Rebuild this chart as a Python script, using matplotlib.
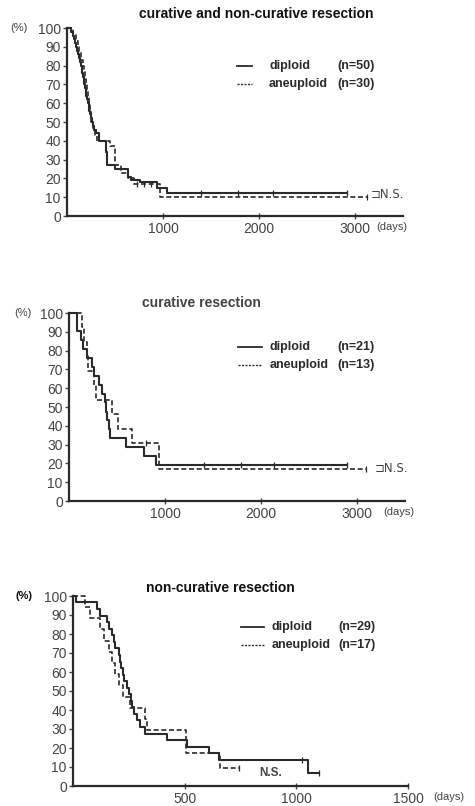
import matplotlib.pyplot as plt

W, H = 475, 806
INK = '#2a2a2a'

# ---- panel 1: curative and non-curative resection ----
p1_dip_t = [0, 40, 60, 75, 88, 95, 105, 115, 125, 135, 145, 152, 160, 168, 175, 182, 190,
            196, 203, 210, 218, 225, 232, 240, 248, 257, 268, 280, 300, 330, 410, 420,
            500, 637, 670, 760, 935, 1040]
p1_dip_s = [100, 98, 96, 94, 92, 90, 88, 86, 84, 82, 80, 78, 76, 74, 72, 70, 68,
            66, 64, 62, 60, 58, 56, 54, 52, 50, 48, 46, 44, 40, 34, 27,
            25, 21, 19, 18, 15, 12]
p1_dip_end = 2915
p1_dip_cens = [1400, 1785, 2150, 2915]

p1_ane_t = [0, 60, 90, 110, 130, 150, 165, 175, 185, 195, 205, 215, 225, 235, 245, 255,
            270, 290, 310, 450, 500, 560, 640, 700, 970]
p1_ane_s = [100, 97, 93, 90, 87, 83, 80, 77, 73, 70, 67, 63, 60, 57, 53, 50,
            47, 43, 40, 37, 27, 23, 20, 17, 10]
p1_ane_end = 3120
p1_ane_cens = [730, 800, 870, 3120]

# ---- panel 2: curative resection ----
p2_dip_t = [0, 87, 122, 150, 191, 240, 260, 313, 347, 370, 390, 400, 412, 424, 590, 781, 903]
p2_dip_s = [100, 90.5, 85.7, 81.0, 76.2, 71.4, 66.7, 61.9, 57.1, 52.4, 47.6, 42.9, 38.1,
            33.3, 28.6, 23.8, 19.0]
p2_dip_end = 2897
p2_dip_cens = [1406, 1789, 2136, 2897]

p2_ane_t = [0, 132, 160, 191, 200, 260, 278, 451, 510, 660, 938]
p2_ane_s = [100, 92.3, 84.6, 76.9, 69.2, 61.5, 53.8, 46.2, 38.5, 30.8, 17.0]
p2_ane_end = 3098
p2_ane_cens = [799, 3098]

# ---- panel 3: non-curative resection ----
p3_dip_t = [0, 15, 107, 122, 152, 160, 175, 182, 190, 205, 210, 215, 222, 230, 240, 250,
            258, 265, 275, 287, 302, 324, 421, 511, 608, 655, 1054]
p3_dip_s = [100, 96.6, 93.1, 89.7, 86.2, 82.8, 79.3, 75.9, 72.4, 69.0, 65.5, 62.1, 58.6,
            55.2, 51.7, 48.3, 44.8, 41.4, 37.9, 34.5, 31.0, 27.6, 24.1, 20.7, 17.2, 13.8, 6.9]
p3_dip_end = 1100
p3_dip_cens = [1026, 1100]

p3_ane_t = [0, 55, 78, 122, 140, 160, 175, 190, 205, 225, 257, 324, 332, 505, 660]
p3_ane_s = [100, 94.1, 88.2, 82.4, 76.5, 70.6, 64.7, 58.8, 52.9, 47.1, 41.2, 35.3, 29.4,
            17.6, 9.4]
p3_ane_end = 745
p3_ane_cens = [745]


def fx(x):
    return x / W


def fy(y):
    return 1 - y / H


def survival_at(t, s, x):
    v = s[0]
    for ti, si in zip(t, s):
        if ti <= x:
            v = si
    return v


def km(ax, t, s, end, cens, dashed):
    ls = (0, (3, 1.6)) if dashed else '-'
    lw = 1.2 if dashed else 1.5
    ax.step(t + [end], s + [s[-1]], where='post', color=INK, lw=lw, ls=ls, clip_on=False)
    ys = [survival_at(t, s, c) for c in cens]
    ax.plot(cens, ys, ls='none', marker='|', ms=4, mew=0.9, color=INK, clip_on=False)


def panel(rect, xmax, xticks):
    ax = fig.add_axes(rect)
    ax.set_xlim(0, xmax)
    ax.set_ylim(0, 100)
    for sp in ['top', 'right']:
        ax.spines[sp].set_visible(False)
    for sp in ['left', 'bottom']:
        ax.spines[sp].set_linewidth(1.6)
        ax.spines[sp].set_color(INK)
    ax.set_yticks(range(0, 101, 10))
    ax.set_xticks(xticks)
    ax.tick_params(axis='y', direction='out', length=3, width=1, pad=1.5,
                   labelsize=10, colors='#444444')
    ax.tick_params(axis='x', direction='inout', length=4, width=1, pad=2,
                   labelsize=10, colors='#444444')
    for lab in ax.get_xticklabels() + ax.get_yticklabels():
        lab.set_family('Liberation Sans')
    return ax


def legend(y1, x0, x1, xt, xn, n_dip, n_ane):
    fig.add_artist(plt.Line2D([fx(x0), fx(x1)], [fy(y1), fy(y1)], color=INK, lw=1.3))
    fig.add_artist(plt.Line2D([fx(x0), fx(x1)], [fy(y1 + 18), fy(y1 + 18)], color=INK,
                              lw=1.0, ls=(0, (1.5, 1))))
    kw = dict(fontsize=9, fontweight='bold', color=INK, family='Liberation Sans', va='center')
    fig.text(fx(xt), fy(y1), 'diploid', **kw)
    fig.text(fx(xn), fy(y1), '(n=%d)' % n_dip, **kw)
    fig.text(fx(xt), fy(y1 + 18), 'aneuploid', **kw)
    fig.text(fx(xn), fy(y1 + 18), '(n=%d)' % n_ane, **kw)


fig = plt.figure(figsize=(W / 100, H / 100), dpi=100)

# panel 1
ax1 = panel([fx(67), fy(216), fx(403 - 67), (216 - 28) / H], 3500, [1000, 2000, 3000])
km(ax1, p1_dip_t, p1_dip_s, p1_dip_end, p1_dip_cens, False)
km(ax1, p1_ane_t, p1_ane_s, p1_ane_end, p1_ane_cens, True)
fig.text(fx(256), fy(14), 'curative and non-curative resection', ha='center', va='center',
         fontsize=10, fontweight='bold', family='Liberation Sans', color='#111111')
legend(66, 237, 252, 269, 337, 50, 30)
fig.text(fx(371), fy(195), '⊐N.S.', ha='left', va='center', fontsize=8.5,
         family=['DejaVu Sans'], color='#444444')
fig.text(fx(10), fy(28), '(%)', ha='left', va='center', fontsize=8, color='#444444',
         family='Liberation Sans')
fig.text(fx(376), fy(227), '(days)', ha='left', va='center', fontsize=8, color='#444444',
         family='Liberation Sans')

# panel 2
ax2 = panel([fx(69), fy(501), fx(405 - 69), (501 - 313) / H], 3500, [1000, 2000, 3000])
km(ax2, p2_dip_t, p2_dip_s, p2_dip_end, p2_dip_cens, False)
km(ax2, p2_ane_t, p2_ane_s, p2_ane_end, p2_ane_cens, True)
fig.text(fx(201), fy(303), 'curative resection', ha='center', va='center',
         fontsize=10, fontweight='bold', family='Liberation Sans', color='#444444')
legend(347, 238, 262, 270, 337, 21, 13)
fig.text(fx(375), fy(468), '⊐N.S.', ha='left', va='center', fontsize=8.5,
         family=['DejaVu Sans'], color='#444444')
fig.text(fx(14), fy(313), '(%)', ha='left', va='center', fontsize=8, color='#444444',
         family='Liberation Sans')
fig.text(fx(383), fy(512), '(days)', ha='left', va='center', fontsize=8, color='#444444',
         family='Liberation Sans')

# panel 3
ax3 = panel([fx(73), fy(786), fx(408 - 73), (786 - 596) / H], 1500, [500, 1000, 1500])
km(ax3, p3_dip_t, p3_dip_s, p3_dip_end, p3_dip_cens, False)
km(ax3, p3_ane_t, p3_ane_s, p3_ane_end, p3_ane_cens, True)
fig.text(fx(220), fy(588), 'non-curative resection', ha='center', va='center',
         fontsize=10, fontweight='bold', family='Liberation Sans', color='#111111')
legend(627, 241, 264, 272, 338, 29, 17)
fig.text(fx(271), fy(773), 'N.S.', ha='center', va='center', fontsize=8.5,
         fontweight='bold', family='Liberation Sans', color='#444444')
fig.text(fx(16), fy(596), '(%)', ha='left', va='center', fontsize=8, color='#111111',
         fontweight='bold', family='Liberation Sans')
fig.text(fx(433), fy(797), '(days)', ha='left', va='center', fontsize=8, color='#444444',
         family='Liberation Sans')

fig.savefig('out.png', dpi=100)
